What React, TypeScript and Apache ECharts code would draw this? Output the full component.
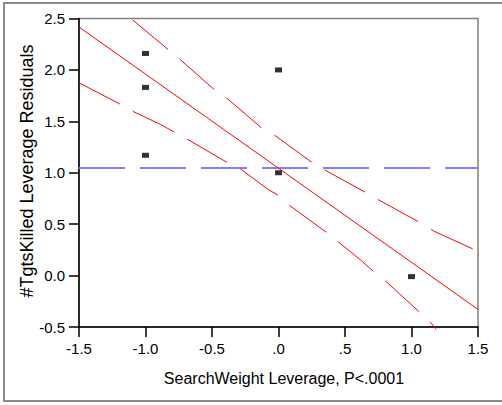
import React, { useEffect, useRef } from "react";
import * as echarts from "echarts";

const xTickLabels = ["-1.5", "-1.0", "-0.5", ".0", ".5", "1.0", "1.5"];
const yTickLabels = ["-0.5", "0.0", "0.5", "1.0", "1.5", "2.0", "2.5"];

const pointX = [-1.0, -1.0, -1.0, 0.0, 0.0, 1.0];
const pointY = [2.16, 1.83, 1.17, 2.0, 1.0, -0.01];

const fitX = [-1.5, 1.5];
const fitY = [2.417, -0.329];

const upperX = [-1.096, -0.825, -0.735, -0.479, -0.38, -0.117, -0.019, 0.259, 0.365, 0.666, 0.771, 1.073, 1.17, 1.5];
const upperY = [2.485, 2.193, 2.096, 1.804, 1.716, 1.424, 1.356, 1.093, 1.015, 0.801, 0.723, 0.509, 0.431, 0.236];

const lowerX = [-1.5, -1.201, -1.103, -0.887, -0.691, -0.39, -0.29, -0.077, -0.002, 0.081, 0.363, 0.45, 0.614, 0.719, 0.807, 1.065, 1.148, 1.186];
const lowerY = [1.875, 1.674, 1.602, 1.47, 1.33, 1.103, 1.041, 0.837, 0.781, 0.684, 0.418, 0.327, 0.155, 0.035, -0.056, -0.361, -0.462, -0.523];

const meanX = [-1.5, 1.5];
const meanY = [1.045, 1.045];

const yTitle = "#TgtsKilled Leverage Residuals";
const xTitle = "SearchWeight Leverage, P<.0001";

const FONT = '"Liberation Sans", Arial, sans-serif';

const zip = (xs: number[], ys: number[]) => xs.map((x, i) => [x, ys[i]]);

export default function App() {
  const ref = useRef<HTMLDivElement>(null);
  useEffect(() => {
    document.body.style.margin = "0";
    const chart = echarts.init(ref.current!, null, { renderer: "svg" });
    chart.setOption({
      animation: false,
      backgroundColor: "#ffffff",
      grid: {
        left: 79,
        top: 18.5,
        right: 24,
        bottom: 78,
        show: true,
        borderColor: "#808080",
        borderWidth: 1.5,
        backgroundColor: "transparent",
      },
      xAxis: {
        type: "value",
        min: -1.5,
        max: 1.5,
        interval: 0.5,
        splitLine: { show: false },
        axisLine: { show: true, onZero: false, lineStyle: { color: "#000", width: 1.5 } },
        axisTick: { show: true, length: 10, lineStyle: { color: "#000", width: 1.5 } },
        axisLabel: {
          margin: 14,
          color: "#000",
          fontSize: 15,
          fontFamily: FONT,
          formatter: (v: number) => xTickLabels[Math.round((v + 1.5) / 0.5)] ?? "",
        },
      },
      yAxis: {
        type: "value",
        min: -0.5,
        max: 2.5,
        interval: 0.5,
        splitLine: { show: false },
        axisLine: { show: true, onZero: false, lineStyle: { color: "#000", width: 1.5 } },
        axisTick: { show: true, length: 10, lineStyle: { color: "#000", width: 1.5 } },
        axisLabel: {
          margin: 14,
          color: "#000",
          fontSize: 15,
          fontFamily: FONT,
          formatter: (v: number) => yTickLabels[Math.round((v + 0.5) / 0.5)] ?? "",
        },
      },
      graphic: [
        {
          type: "rect",
          z: -10,
          shape: { x: 4, y: 3, width: 540, height: 398 },
          style: { fill: "none", stroke: "#8a8a8a", lineWidth: 2 },
        },
        {
          type: "text",
          x: 27,
          y: 171,
          rotation: Math.PI / 2,
          style: {
            text: yTitle,
            font: `18px ${FONT}`,
            fill: "#000",
            textAlign: "center",
            textVerticalAlign: "middle",
            align: "center",
            verticalAlign: "middle",
          },
        },
        {
          type: "text",
          x: 284,
          y: 378,
          style: {
            text: xTitle,
            font: `16px ${FONT}`,
            fill: "#000",
            textAlign: "center",
            textVerticalAlign: "middle",
            align: "center",
            verticalAlign: "middle",
          },
        },
      ],
      series: [
        {
          type: "line",
          data: zip(meanX, meanY),
          symbol: "none",
          lineStyle: { color: "#8080ff", width: 2, type: [46, 15] },
          z: 2,
        },
        {
          type: "line",
          data: zip(fitX, fitY),
          symbol: "none",
          lineStyle: { color: "#ff0000", width: 1 },
          z: 3,
        },
        {
          type: "line",
          data: zip(upperX, upperY),
          symbol: "none",
          clip: false,
          lineStyle: { color: "#ff0000", width: 1, type: [46, 15] },
          z: 3,
        },
        {
          type: "line",
          data: zip(lowerX, lowerY),
          symbol: "none",
          clip: false,
          lineStyle: { color: "#ff0000", width: 1, type: [46, 15] },
          z: 3,
        },
        {
          type: "scatter",
          data: zip(pointX, pointY),
          symbol: "rect",
          symbolSize: [7, 5],
          itemStyle: { color: "#000" },
          z: 4,
        },
      ],
    });
    return () => chart.dispose();
  }, []);
  return (
    <div
      ref={ref}
      style={{ position: "absolute", left: 0, top: 0, width: 502, height: 405, background: "#fff" }}
    />
  );
}
